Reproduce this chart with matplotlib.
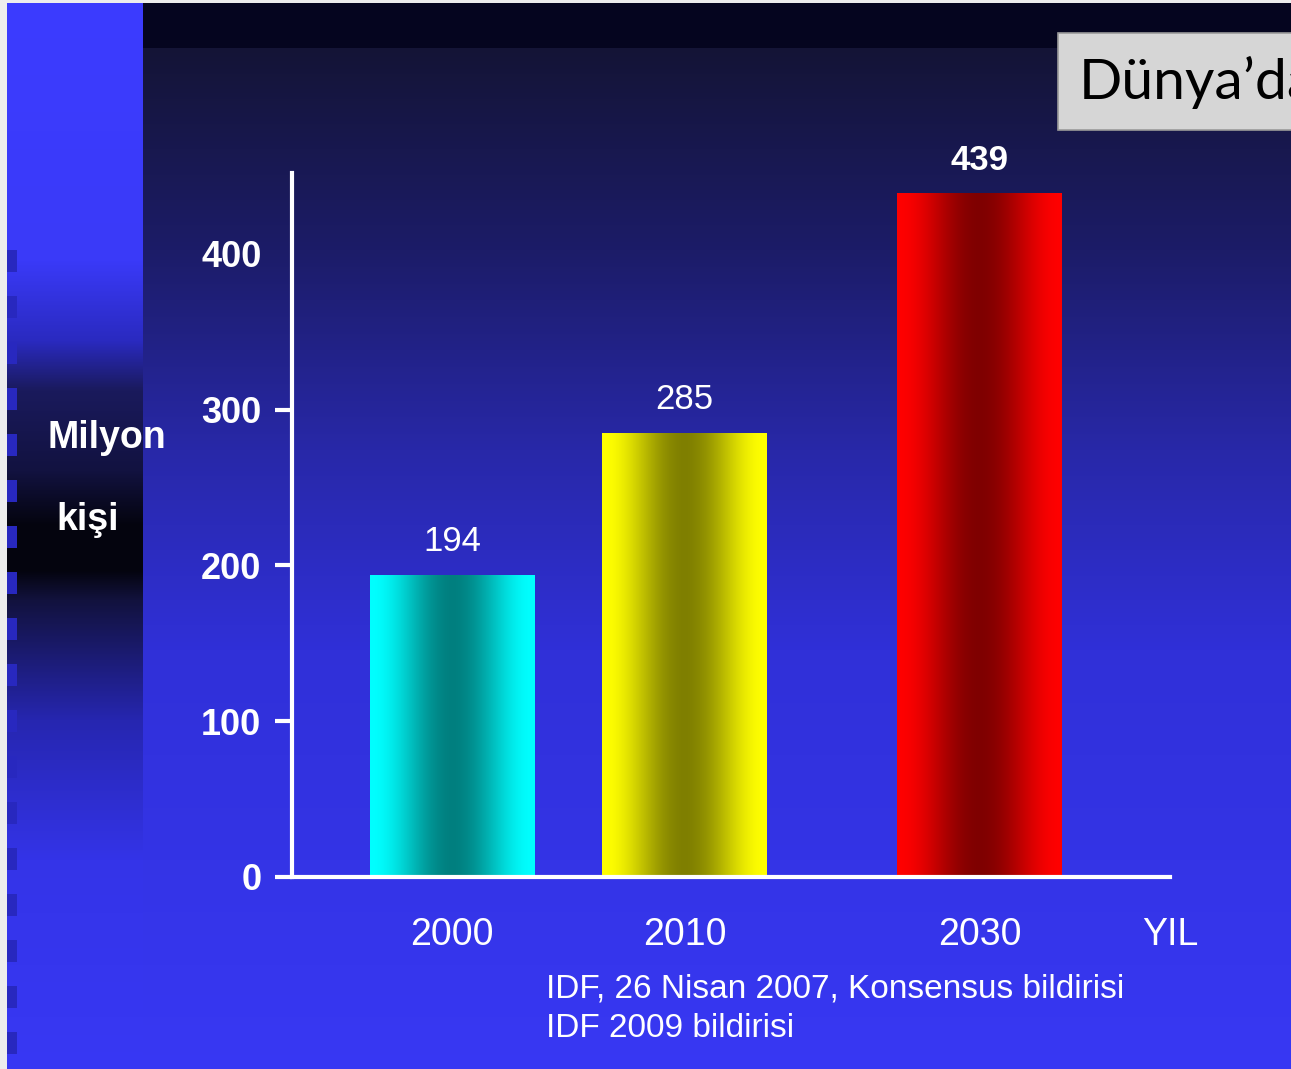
import numpy as np
import matplotlib.pyplot as plt
from matplotlib.patches import Rectangle
from matplotlib.transforms import blended_transform_factory

# ----------------------------------------------------------------------
# Data
# ----------------------------------------------------------------------
years = ['2000', '2010', '2030']
values = [194, 285, 439]
positions = [0, 1, 2.27]          # 2030 bar sits further right
bar_colors = ['#00ffff', '#ffff00', '#ff0000']
yticks = [0, 100, 200, 300, 400]
source_lines = ['IDF, 26 Nisan 2007, Konsensus bildirisi', 'IDF 2009 bildirisi']

W, H = 1291, 1069
NARROW = ['Liberation Sans Narrow', 'Liberation Sans', 'DejaVu Sans']

fig = plt.figure(figsize=(W / 100, H / 100), dpi=100)

# ----------------------------------------------------------------------
# Slide background (gradient)
# ----------------------------------------------------------------------
def ramp(ys, stops):
    pos = [s[0] for s in stops]
    cols = np.array([[int(s[1][i:i + 2], 16) / 255 for i in (1, 3, 5)] for s in stops])
    return np.stack([np.interp(ys, pos, cols[:, k]) for k in range(3)], axis=1)

ys = np.arange(H)
main = ramp(ys, [(0, '#05051f'), (47, '#05051f'), (48, '#141436'), (250, '#1c1c68'),
                 (450, '#2828a8'), (650, '#3030d8'), (1069, '#3838f4')])
side = ramp(ys, [(0, '#3c3cff'), (260, '#3a3af8'), (340, '#2a2ac0'), (390, '#1a1a5c'),
                 (470, '#121240'), (525, '#04040e'), (570, '#04040e'), (600, '#12123e'),
                 (720, '#2626b0'), (860, '#3434e8'), (1069, '#3838f4')])
img = np.repeat(main[:, None, :], W, axis=1)
img[:, 7:143, :] = side[:, None, :]
# dashed marks along the left edge
for y0 in range(250, 1040, 46):
    img[y0:y0 + 22, 7:17, :] = [0.16, 0.16, 0.75]
img[:3, :, :] = 0.93
img[:, :7, :] = 0.93

bg = fig.add_axes([0, 0, 1, 1])
bg.imshow(img, aspect='auto', extent=(0, W, H, 0), interpolation='bilinear')
bg.set_xlim(0, W)
bg.set_ylim(H, 0)
bg.axis('off')

# title box (cut off on the right, as in the slide)
bg.add_patch(Rectangle((1058, 33), 260, 97, facecolor='#d6d6d6', edgecolor='#9a9a9a', lw=1.2))
bg.text(1079, 82, 'Dünya’da', fontsize=41, family=['Lato', 'DejaVu Sans'],
        color='black', va='center', ha='left', clip_on=True)

# ----------------------------------------------------------------------
# Chart
# ----------------------------------------------------------------------
ax = fig.add_axes([292 / W, 1 - 877 / H, (1170 - 292) / W, (877 - 173) / H])
ax.patch.set_alpha(0)

bars = ax.bar(positions, values, width=0.71, facecolor='none', edgecolor='none')

t = np.linspace(0, 1, 256)
shade = 1 - 0.5 * np.sin(np.pi * t) ** 2
for bar, col in zip(bars, bar_colors):
    rgb = np.array([int(col[i:i + 2], 16) / 255 for i in (1, 3, 5)])
    grad = (shade[:, None] * rgb[None, :])[None, :, :]
    x0, w, h = bar.get_x(), bar.get_width(), bar.get_height()
    im = ax.imshow(grad, aspect='auto', extent=(x0, x0 + w, 0, h), zorder=2)
    im.set_clip_path(bar)

for p, v in zip(positions, values):
    ax.annotate(str(v), xy=(p, v), xytext=(0, 12), textcoords='offset points',
                ha='center', va='bottom', color='white', fontsize=25,
                family=NARROW, fontweight='bold' if v == max(values) else 'normal')

ax.set_xlim(-0.69, 3.09)
ax.set_ylim(0, 452)

for s in ['top', 'right']:
    ax.spines[s].set_visible(False)
for s in ['left', 'bottom']:
    ax.spines[s].set_color('white')
    ax.spines[s].set_linewidth(3)

ax.set_yticks(yticks)
ax.set_yticklabels([str(v) for v in yticks], color='white', fontsize=26,
                   family=NARROW, fontweight='bold')
ax.tick_params(axis='y', direction='out', length=12, width=3, color='white', pad=10)
ax.yaxis.get_major_ticks()[-1].tick1line.set_visible(False)

ax.set_xticks(positions)
ax.set_xticklabels(years, color='white', fontsize=27, family=NARROW)
ax.tick_params(axis='x', length=0, pad=29)

ax.annotate('YIL', xy=(3.09, 0), xycoords=blended_transform_factory(ax.transData, ax.transAxes),
            xytext=(0, -29), textcoords='offset points', ha='center', va='top',
            color='white', fontsize=27, family=NARROW)

# axis caption and source
fig.text(107 / W, 1 - 438 / H, 'Milyon', color='white', fontsize=27, fontweight='bold',
         family=NARROW, ha='center', va='center')
fig.text(88 / W, 1 - 520 / H, 'kişi', color='white', fontsize=27, fontweight='bold',
         family=NARROW, ha='center', va='center')
fig.text(546 / W, 1 - 974 / H, '\n'.join(source_lines), color='white', fontsize=24,
         family=NARROW, ha='left', va='top', linespacing=1.35)

fig.savefig('out.png', dpi=100)
